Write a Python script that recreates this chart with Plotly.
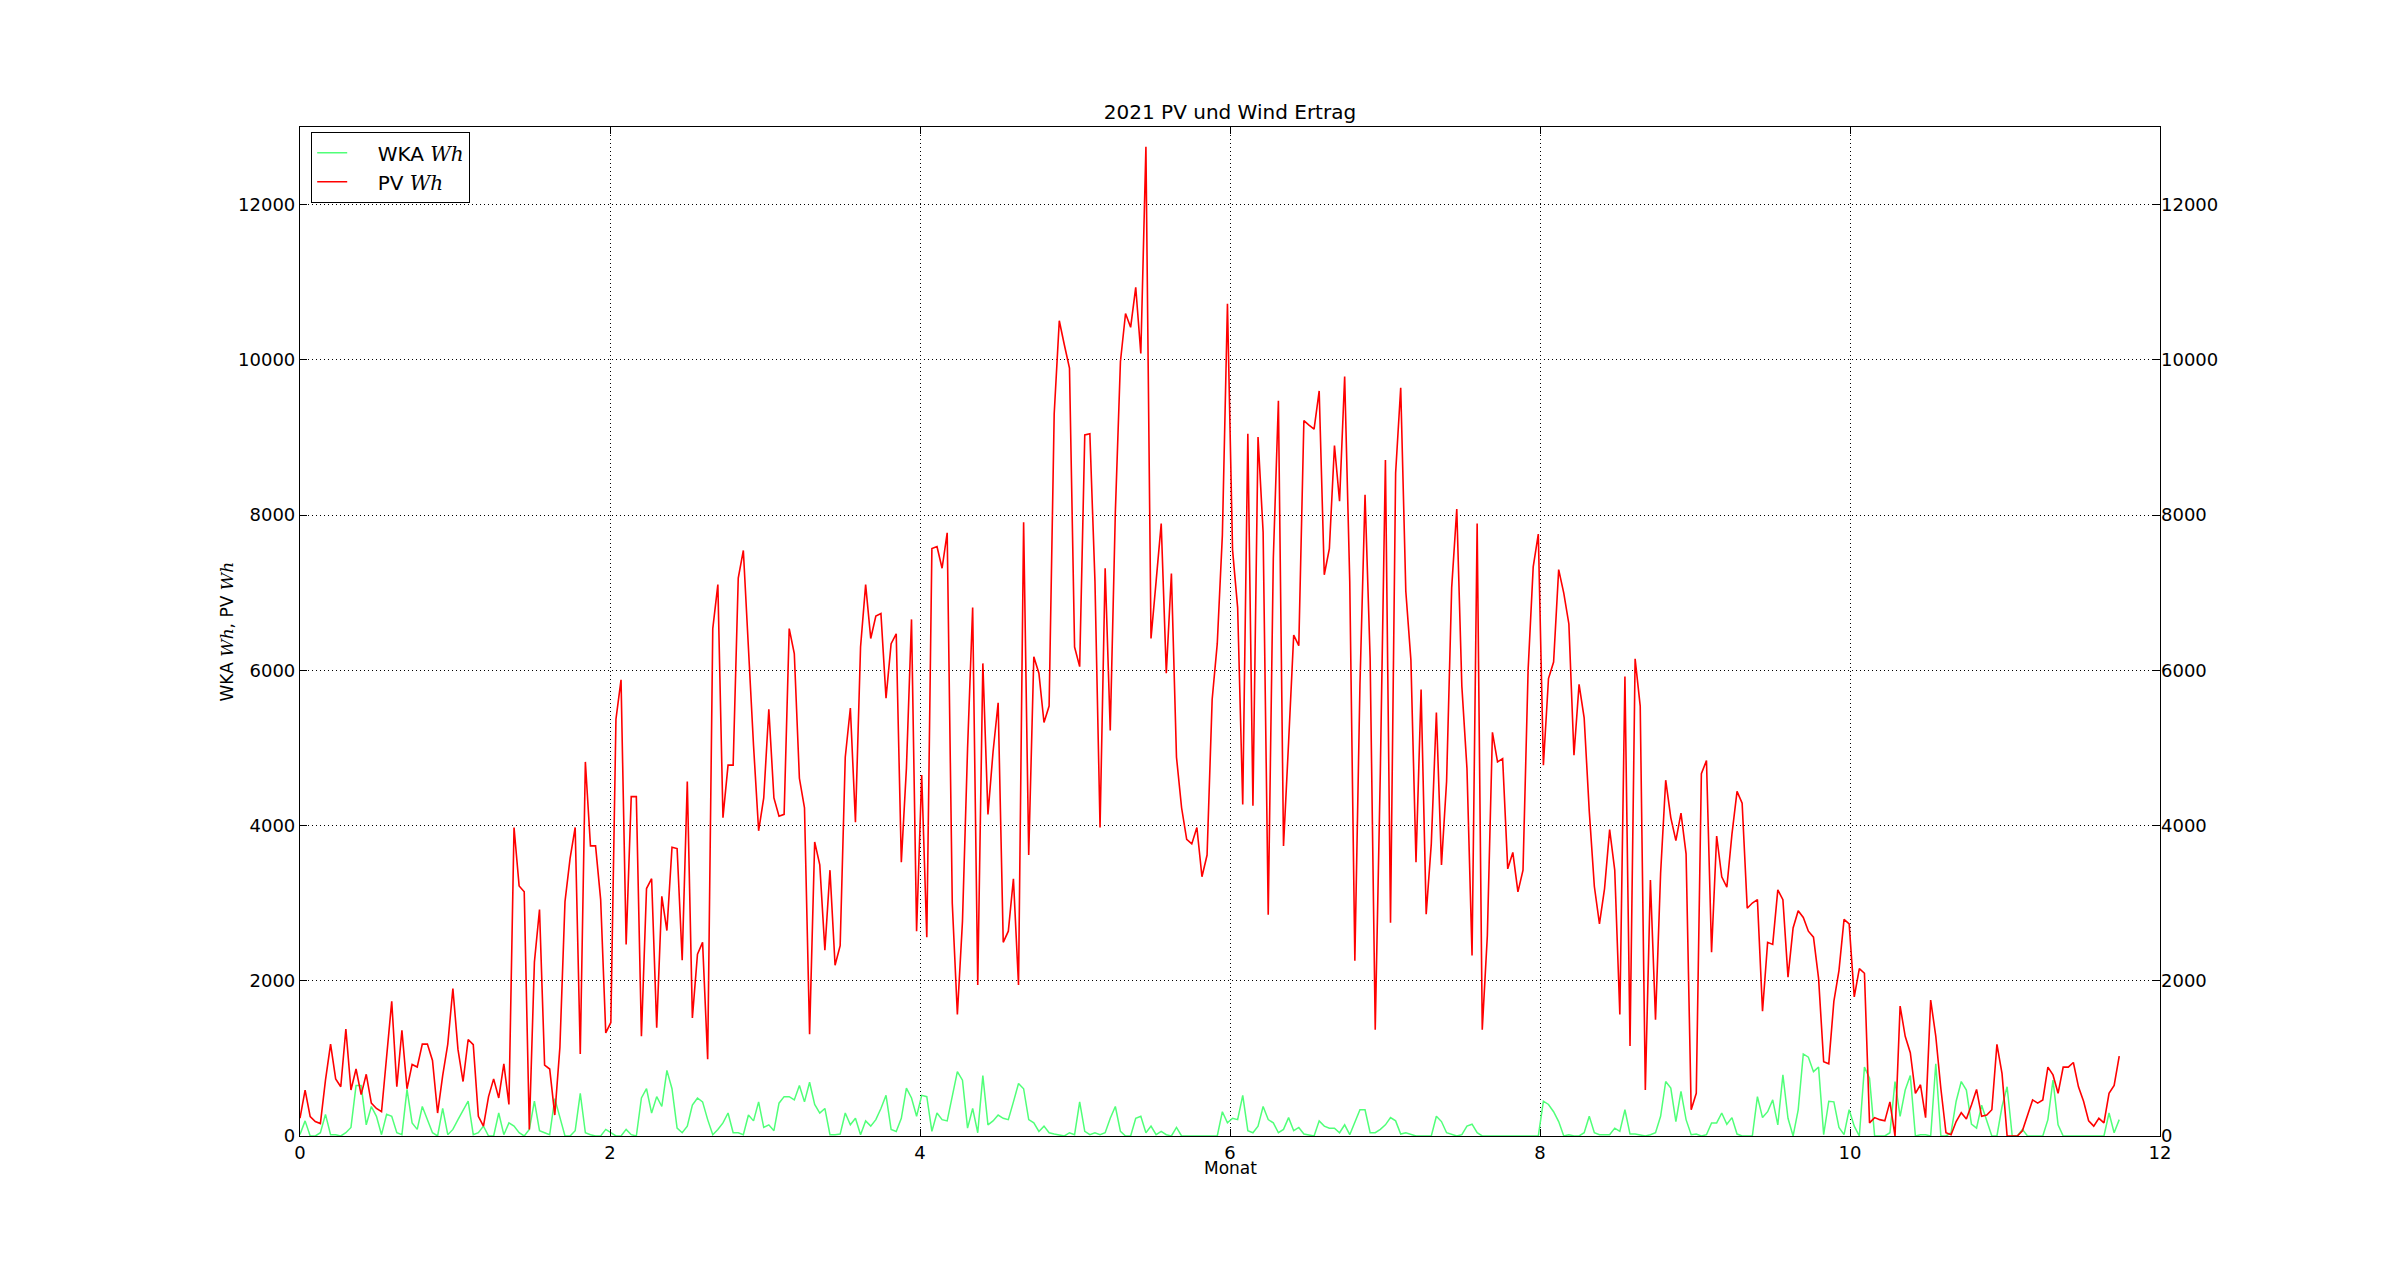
import plotly.graph_objects as go

# Daily yields (Wh), day 0 = 1 Jan 2021
pv_jan_feb = [230, 590, 250, 186, 160, 719, 1184, 736, 634, 1378, 592, 863, 533, 795, 423, 355, 313, 989, 1734, 634,
              1362, 609, 922, 888, 1184, 1184, 973, 296, 778, 1184, 1900, 1116, 702, 1243, 1176, 254, 127, 507, 736, 490,
              930, 406, 3975, 3222, 3146]
pv_feb_apr = [85, 2240, 2918, 913, 863, 270, 1142, 3019, 3577, 3975, 1057, 4820, 3738, 3738, 3045, 1328, 1463, 5370,
              5878, 2469, 4372, 4372, 1285, 3188, 3315, 1395, 3087, 2647, 3721, 3704, 2266, 4567, 1522, 2343, 2495, 989,
              6537, 7104, 4102, 4778, 4778, 7188, 7544, 6216, 5032, 3932, 4355, 5497, 4355, 4119]
pv_apr_may = [4144, 6537, 6216, 4609, 4229, 1311, 3789, 3493, 2393, 3425, 2199, 2453, 4880, 5514, 4042, 6300, 7104,
              6410, 6698, 6732, 5641, 6343, 6470, 3526, 4736, 6656, 2639, 4651, 2562, 7569, 7594, 7315, 7772, 3002, 1565,
              2765, 4990, 6808, 1945, 6089, 4144, 4947, 5582, 2495, 2639, 3315, 1945]
pv_may_jul = [7907, 3620, 6174, 5962, 5328, 5539, 9303, 10504, 10191, 9895, 6300, 6047, 9032, 9049, 7146, 3975, 7315,
              5226, 8034, 9979, 10597, 10419, 10935, 10081, 12745, 6410, 7146, 7890, 5962, 7248, 4880, 4229, 3823, 3763,
              3975, 3340, 3620, 5624, 6343, 7738, 10724, 7552, 6808, 4271, 9049, 4254, 9007]
pv_jul_aug = [7780, 2850, 7442, 9472, 3738, 5074, 6453, 6317, 9218, 9159, 9108, 9599, 7231, 7569, 8897, 8178, 9785,
              7146, 2258, 5810, 8262, 6148, 1370, 4694, 8711, 2749, 8542, 9641, 7019, 6131, 3526, 5751, 2858, 3763, 5455,
              3493, 4567, 7062, 8077, 5793, 4736, 2326, 7890, 1370, 2579, 5201, 4821]
pv_aug_oct = [4863, 3442, 3653, 3146, 3425, 6005, 7332, 7755, 4778, 5894, 6106, 7298, 6994, 6597, 4905, 5818, 5387,
              4186, 3214, 2732, 3188, 3949, 3425, 1565, 5920, 1159, 6148, 5539, 592, 3298, 1497, 3383, 4584, 4102, 3806,
              4161, 3636, 338, 550, 4668, 4837, 2368, 3865, 3340, 3205, 3890, 4440]
pv_oct_nov = [4288, 2935, 3002, 3045, 1607, 2495, 2469, 3171, 3045, 2047, 2681, 2901, 2816, 2639, 2562, 2030, 956, 930,
              1734, 2131, 2791, 2732, 1793, 2157, 2097, 169, 237, 211, 195, 440, 0, 1674, 1285, 1074, 550, 660, 237,
              1751, 1285, 609, 42, 17, 186, 300, 220, 400, 600]
pv_nov_dec = [254, 270, 338, 1180, 803, 0, 0, 0, 68, 270, 465, 423, 465, 888, 787, 550, 888, 888, 947, 634, 448, 195,
              127, 228, 169, 550, 651, 1030]

wka_jan_feb = [20, 195, 0, 0, 42, 279, 17, 17, 0, 42, 110, 650, 650, 144, 380, 254, 17, 279, 254, 42, 17, 600, 169, 85,
               380, 211, 42, 0, 355, 17, 85, 211, 338, 448, 17, 42, 127, 0, 0, 296, 17, 169, 127, 42, 0]
wka_feb_apr = [85, 448, 68, 42, 17, 482, 254, 0, 0, 68, 550, 42, 17, 0, 0, 85, 42, 0, 0, 85, 17, 0, 490, 609, 296, 507,
               380, 846, 609, 101, 42, 127, 397, 490, 440, 211, 17, 85, 169, 296, 42, 42, 17, 270, 195, 440, 110, 144,
               68, 423]
wka_apr_may = [507, 507, 465, 651, 440, 693, 406, 296, 355, 17, 17, 25, 296, 144, 228, 17, 195, 127, 211, 355, 524, 85,
               59, 228, 617, 490, 254, 524, 507, 59, 296, 211, 195, 524, 829, 719, 101, 355, 42, 778, 144, 195, 270, 228,
               211, 440, 677]
wka_may_jul = [609, 211, 169, 59, 127, 42, 25, 17, 0, 42, 17, 440, 59, 17, 42, 17, 42, 228, 380, 59, 0, 0, 228, 254, 42,
               127, 17, 59, 17, 0, 110, 0, 0, 0, 0, 0, 0, 0, 0, 313, 169, 228, 211, 524, 68, 42, 127]
wka_jul_aug = [380, 211, 169, 42, 85, 237, 68, 110, 25, 17, 0, 195, 127, 101, 101, 42, 144, 17, 169, 338, 338, 42, 42,
               85, 144, 237, 195, 25, 42, 17, 0, 0, 0, 0, 254, 186, 42, 17, 0, 17, 127, 152, 42, 0, 0, 0, 0]
wka_aug_oct = [0, 0, 0, 0, 0, 0, 0, 0, 448, 406, 313, 186, 0, 17, 0, 0, 42, 254, 42, 17, 17, 17, 101, 59, 338, 25, 25,
               17, 0, 17, 42, 254, 702, 617, 186, 575, 211, 17, 25, 0, 17, 169, 169, 296, 152, 237, 25]
wka_oct_nov = [0, 0, 0, 507, 237, 313, 465, 144, 787, 228, 0, 338, 1057, 1015, 829, 888, 17, 448, 440, 110, 17, 338,
               127, 0, 888, 744, 0, 0, 0, 42, 702, 254, 592, 778, 0, 17, 17, 0, 930, 0, 0, 42, 448, 702, 592, 152, 101]
wka_nov_dec = [397, 211, 0, 0, 380, 634, 0, 0, 85, 0, 0, 0, 0, 211, 719, 144, 0, 0, 0, 0, 0, 0, 0, 0, 0, 296, 42, 211]

pv = pv_jan_feb + pv_feb_apr + pv_apr_may + pv_may_jul + pv_jul_aug + pv_aug_oct + pv_oct_nov + pv_nov_dec
wka = wka_jan_feb + wka_feb_apr + wka_apr_may + wka_may_jul + wka_jul_aug + wka_aug_oct + wka_oct_nov + wka_nov_dec

month_of_day = [d * 12.0 / 365.0 for d in range(len(pv))]
x_ticks = [0, 2, 4, 6, 8, 10, 12]
y_ticks = [0, 2000, 4000, 6000, 8000, 10000, 12000]

FONT = "DejaVu Sans"
SERIF = "DejaVu Serif"
OFF = 8  # page body margin of the browser
W, H = 2400 - 2 * OFF, 1261 - 2 * OFF
L, R, T, B = 300 - OFF, 2160 - OFF, 127 - OFF, 1136 - OFF
NB = "\u00a0\u00a0\u00a0\u00a0"

fig = go.Figure()
fig.add_trace(go.Scatter(x=month_of_day, y=wka, mode="lines",
                         name=NB + "WKA <span style='font-family:%s'><i>Wh</i></span>" % SERIF,
                         line=dict(color="#50ff78", width=1.5)))
fig.add_trace(go.Scatter(x=month_of_day, y=pv, mode="lines",
                         name=NB + "PV <span style='font-family:%s'><i>Wh</i></span>" % SERIF,
                         line=dict(color="#ff0000", width=1.6)))
fig.add_trace(go.Scatter(x=[0], y=[0], yaxis="y2", mode="lines", line=dict(width=0, color="rgba(0,0,0,0)"),
                         showlegend=False, hoverinfo="skip"))

axis_common = dict(showline=True, linecolor="black", linewidth=1.2, ticks="inside", ticklen=7, tickcolor="black",
                   tickwidth=1, tickfont=dict(family=FONT, size=18, color="black"), zeroline=False)

fig.update_layout(
    width=W, height=H,
    paper_bgcolor="white", plot_bgcolor="white",
    margin=dict(l=L, r=W - R, t=T, b=H - B, pad=0),
    font=dict(family=FONT, size=17, color="black"),
    title=dict(text="2021 PV und Wind Ertrag", x=(L + R) / 2 / W, xanchor="center",
               y=1 - (112 - OFF) / H, yanchor="middle", yref="container",
               font=dict(family=FONT, size=20, color="black")),
    xaxis=dict(range=[0, 12], tickvals=x_ticks, ticktext=[str(v) for v in x_ticks], mirror="ticks",
               showgrid=True, gridcolor="black", gridwidth=0.8, griddash="1px,3px", **axis_common),
    yaxis=dict(range=[0, 13000], tickvals=y_ticks, ticktext=[str(v) for v in y_ticks], mirror="ticks",
               showgrid=True, gridcolor="black", gridwidth=0.8, griddash="1px,3px", **axis_common),
    yaxis2=dict(range=[0, 13000], tickvals=y_ticks, ticktext=[str(v) for v in y_ticks], overlaying="y",
                side="right", showgrid=False, showline=False, zeroline=False, ticks="inside", ticklen=7,
                tickcolor="black", tickfont=dict(family=FONT, size=18, color="black")),
    legend=dict(x=(311 - OFF - L) / (R - L), y=1 - (132 - OFF - T) / (B - T), xanchor="left", yanchor="top",
                bordercolor="black", borderwidth=1.2, bgcolor="white",
                font=dict(family=FONT, size=20, color="black"), itemwidth=30, tracegroupgap=0),
    showlegend=True,
    annotations=[
        dict(text="Monat", x=0.5, xref="paper", y=(B - (1168 - OFF)) / (B - T), yref="paper", showarrow=False,
             xanchor="center", yanchor="middle", font=dict(family=FONT, size=17, color="black")),
        dict(text="WKA <span style='font-family:%s'><i>Wh</i></span>, PV <span style='font-family:%s'><i>Wh</i></span>"
                  % (SERIF, SERIF),
             x=(226 - OFF - L) / (R - L), xref="paper", y=0.5, yref="paper", textangle=-90, showarrow=False,
             xanchor="center", yanchor="middle", font=dict(family=FONT, size=17, color="black")),
    ],
)

fig.write_html("out.html")
